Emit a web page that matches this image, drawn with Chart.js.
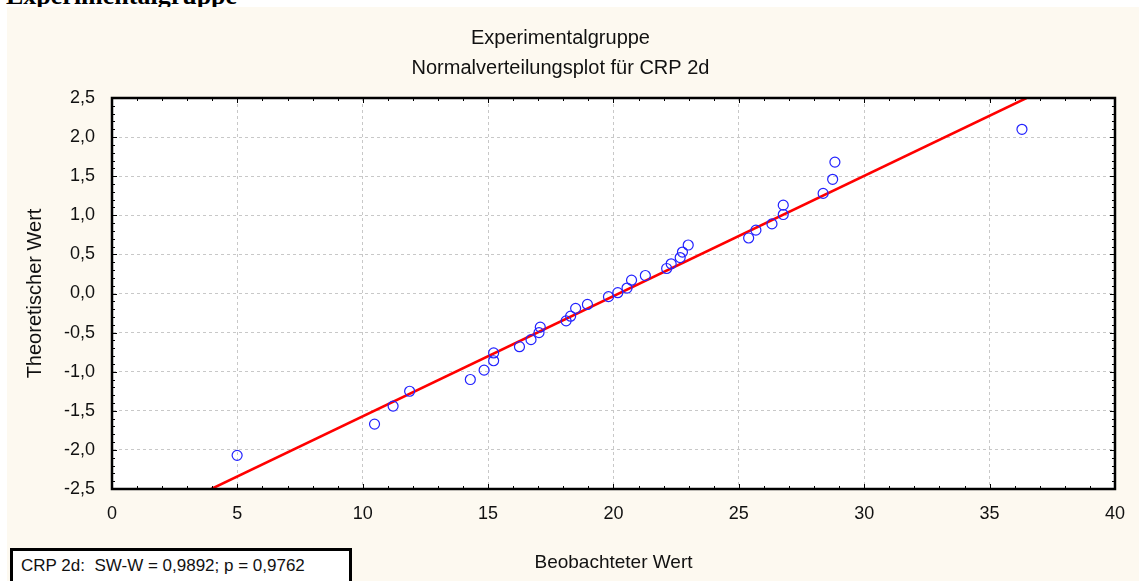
<!DOCTYPE html>
<html lang="de">
<head>
<meta charset="utf-8">
<title>Normalverteilungsplot für CRP 2d</title>
<script src="https://cdn.jsdelivr.net/npm/chart.js@4.4.1/dist/chart.umd.min.js"></script>
<style>
  html, body { margin: 0; padding: 0; background: #fff; overflow: hidden; }
  #wrap { position: relative; width: 1139px; height: 581px; }
  #heading {
    position: absolute; left: 6px; top: -17px; z-index: 0;
    font: bold 26px "Liberation Serif", "Times New Roman", serif;
    line-height: 26px; white-space: nowrap; color: #000;
  }
  #chart { position: absolute; left: 0; top: 0; z-index: 1; }
  #stats {
    position: absolute; left: 10px; top: 548px; width: 342px; height: 40px;
    box-sizing: border-box; border: 3px solid #000; background: #fff; z-index: 2;
    font: 17px "Liberation Sans", Arial, sans-serif; line-height: 30px;
    padding-left: 8px; white-space: pre; color: #111;
  }
</style>
</head>
<body>
<div id="wrap">
  <div id="heading">Experimentalgruppe</div>
  <canvas id="chart" width="1139" height="581"></canvas>
  <div id="stats">CRP 2d:  SW-W = 0,9892; p = 0,9762</div>
</div>
<script>
// beobachtete CRP-Werte und zugehörige theoretische Quantile
const observed = [4.99, 10.47, 11.21, 11.87, 14.29, 14.84, 15.22, 15.22, 16.25, 16.71,
  17.03, 17.08, 18.11, 18.29, 18.49, 18.96, 19.80, 20.17, 20.54, 20.72,
  21.27, 22.12, 22.30, 22.66, 22.75, 22.98, 25.39, 25.68, 26.32, 26.77,
  26.77, 28.36, 28.74, 28.83, 36.29];
const theoretical = [-2.07, -1.67, -1.44, -1.25, -1.10, -0.98, -0.86, -0.76, -0.68, -0.59,
  -0.50, -0.43, -0.35, -0.29, -0.19, -0.14, -0.04, 0.01, 0.07, 0.17,
  0.23, 0.32, 0.38, 0.46, 0.53, 0.62, 0.71, 0.81, 0.89, 1.01,
  1.13, 1.28, 1.46, 1.68, 2.10];

// Referenzgerade (Endpunkte an den Achsengrenzen)
const lineX = [3.96, 36.47];
const lineY = [-2.5, 2.5];

const xTicks = [0, 5, 10, 15, 20, 25, 30, 35, 40];
const yTicks = [-2.5, -2.0, -1.5, -1.0, -0.5, 0.0, 0.5, 1.0, 1.5, 2.0, 2.5];

const titleLines = ["Experimentalgruppe", "Normalverteilungsplot für CRP 2d"];
const xTitle = "Beobachteter Wert";
const yTitle = "Theoretischer Wert";

const fontFamily = '"Liberation Sans", Arial, sans-serif';
const comma = (v, d) => v.toFixed(d).replace(".", ",");

const points = observed.map((x, i) => ({ x: x, y: theoretical[i] }));
const fit = lineX.map((x, i) => ({ x: x, y: lineY[i] }));

// Hintergrund, Rahmen und kleine Teilstriche
const framePlugin = {
  id: "frame",
  beforeDraw(chart) {
    const { ctx, chartArea: a } = chart;
    ctx.save();
    ctx.fillStyle = "#fdf9f0";
    ctx.fillRect(7, 7, chart.width - 7, chart.height - 7);
    ctx.fillStyle = "#ffffff";
    ctx.fillRect(a.left, a.top, a.right - a.left, a.bottom - a.top);
    ctx.restore();
  },
  afterDatasetsDraw(chart) {
    const { ctx, chartArea: a, scales } = chart;
    ctx.save();
    ctx.strokeStyle = "#000";
    ctx.lineWidth = 1;
    ctx.beginPath();
    for (let v = 0; v <= 40; v++) {
      const px = Math.round(scales.x.getPixelForValue(v)) + 0.5;
      const len = v % 5 === 0 ? 5 : 3;
      ctx.moveTo(px, a.top); ctx.lineTo(px, a.top + len);
      ctx.moveTo(px, a.bottom); ctx.lineTo(px, a.bottom - len);
    }
    for (let k = -25; k <= 25; k++) {
      const py = Math.round(scales.y.getPixelForValue(k / 10)) + 0.5;
      const len = k % 5 === 0 ? 5 : 3;
      ctx.moveTo(a.left, py); ctx.lineTo(a.left + len, py);
      ctx.moveTo(a.right, py); ctx.lineTo(a.right - len, py);
    }
    ctx.stroke();
    ctx.lineWidth = 2.5;
    ctx.strokeRect(a.left, a.top, a.right - a.left, a.bottom - a.top);
    ctx.restore();
  }
};

new Chart(document.getElementById("chart"), {
  type: "scatter",
  data: {
    datasets: [
      {
        label: "Referenzgerade",
        type: "line",
        data: fit,
        borderColor: "#ff0000",
        borderWidth: 2.5,
        pointRadius: 0,
        fill: false,
        order: 2
      },
      {
        label: "CRP 2d",
        data: points,
        pointStyle: "circle",
        pointRadius: 5,
        pointBorderWidth: 1.2,
        pointBorderColor: "#2222ff",
        pointBackgroundColor: "rgba(0,0,0,0)",
        order: 1
      }
    ]
  },
  options: {
    responsive: false,
    animation: false,
    devicePixelRatio: 1,
    layout: { padding: { top: 0, right: 18, bottom: 0, left: 0 } },
    plugins: {
      legend: { display: false },
      tooltip: { enabled: false },
      title: {
        display: true,
        text: titleLines,
        color: "#111",
        font: { family: fontFamily, size: 20, weight: "normal", lineHeight: 1.5 },
        padding: { top: 23, bottom: 15 }
      }
    },
    scales: {
      x: {
        type: "linear",
        min: 0,
        max: 40,
        afterFit(scale) { scale.height = 92; },
        afterBuildTicks(scale) { scale.ticks = xTicks.map(v => ({ value: v })); },
        ticks: {
          color: "#111",
          padding: 14,
          font: { family: fontFamily, size: 18 },
          callback: v => String(v)
        },
        grid: { color: "#c8c8c8", drawTicks: false, lineWidth: 1 },
        // dash gilt in v4 für die Gitterlinien
        border: { display: true, color: "#000", width: 2, dash: [3, 3] },
        title: {
          display: true,
          text: xTitle,
          color: "#111",
          font: { family: fontFamily, size: 19 },
          padding: { top: 0, bottom: 7 }
        }
      },
      y: {
        type: "linear",
        min: -2.5,
        max: 2.5,
        afterFit(scale) { scale.width = 112; },
        afterBuildTicks(scale) { scale.ticks = yTicks.map(v => ({ value: v })); },
        ticks: {
          color: "#111",
          padding: 17,
          font: { family: fontFamily, size: 18 },
          callback: v => comma(v, 1)
        },
        grid: { color: "#c8c8c8", drawTicks: false, lineWidth: 1 },
        border: { display: true, color: "#000", width: 2, dash: [3, 3] },
        title: {
          display: true,
          text: yTitle,
          color: "#111",
          font: { family: fontFamily, size: 20 },
          padding: { top: 23, bottom: 0 }
        }
      }
    }
  },
  plugins: [framePlugin]
});
</script>
</body>
</html>
